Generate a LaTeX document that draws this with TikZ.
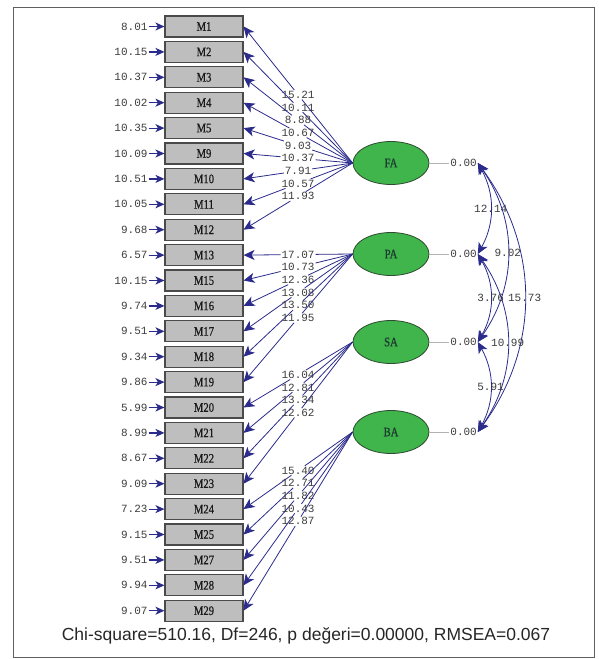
\documentclass[tikz,border=0pt]{standalone}
\usepackage{fontspec}
\setmainfont{Liberation Sans}
\newfontfamily\numfont{Liberation Mono}
\newfontfamily\boxfont[FakeStretch=0.82,FakeBold=0.6]{Liberation Serif}
\usetikzlibrary{shapes.geometric,arrows.meta}
\definecolor{boxgray}{HTML}{BEBEBE}
\definecolor{boxline}{HTML}{4A4A4A}
\definecolor{ellgreen}{HTML}{3FB54B}
\definecolor{ellline}{HTML}{2E4A30}
\definecolor{pathblue}{HTML}{2B2B8C}
\definecolor{numgray}{HTML}{3C3C3C}
\definecolor{latlabel}{HTML}{1E3A30}
\definecolor{framegray}{HTML}{606060}
\tikzset{
  obs/.style={rectangle, draw=boxline, fill=boxgray, line width=1.1pt,
    minimum width=78pt, minimum height=21pt, inner sep=0pt, text=black!90,
    font=\boxfont\fontsize{13}{13}\selectfont},
  lat/.style={ellipse, draw=ellline, fill=ellgreen, line width=0.8pt,
    minimum width=76pt, minimum height=43pt, inner sep=0pt, text=latlabel,
    font=\boxfont\fontsize{13}{13}\selectfont},
  val/.style={font=\numfont\fontsize{11}{11}\selectfont, text=numgray, inner sep=0.8pt},
  load/.style={draw=pathblue, line width=0.8pt},
  tip/.style={-{Stealth[length=11pt,width=10pt,inset=3pt,fill=pathblue]}},
  errarr/.style={draw=pathblue, line width=1.2pt, -{Stealth[length=9pt,width=8pt,inset=2.5pt,fill=pathblue]}},
  cov/.style={draw=pathblue, line width=0.8pt, {Stealth[length=11pt,width=10pt,inset=3pt,fill=pathblue]}-{Stealth[length=11pt,width=10pt,inset=3pt,fill=pathblue]}},
  link/.style={draw=black!30, line width=0.8pt},
  frame/.style={draw=framegray, line width=1pt}
}
\begin{document}
\begin{tikzpicture}[x=1pt,y=-1pt]
\useasboundingbox (0,0) rectangle (598,659);
\draw[frame] (13,7) rectangle (594,657);
% observed variables and error values
\foreach \n/\e [count=\i from 0] in {1/8.01, 2/10.15, 3/10.37, 4/10.02, 5/10.35, 9/10.09, 10/10.51, 11/10.05, 12/9.68, 13/6.57, 15/10.15, 16/9.74, 17/9.51, 18/9.34, 19/9.86, 20/5.99, 21/8.99, 22/8.67, 23/9.09, 24/7.23, 25/9.15, 27/9.51, 28/9.94, 29/9.07}{
  \node[obs] (M\n) at (204, 26.5+25.4*\i) {M\n};
  \node[val, anchor=east] (E\n) at (148.5, 26.5+25.4*\i) {\e};
  \draw[errarr] (E\n) -- (M\n);
}
% latent variables
\node[lat] (FA) at (391,163) {FA};
\node[lat] (PA) at (391,254) {PA};
\node[lat] (SA) at (391,342) {SA};
\node[lat] (BA) at (391,432) {BA};
% loadings
\foreach \lt/\n/\v in {FA/1/15.21, FA/2/10.11, FA/3/8.88, FA/4/10.67, FA/5/9.03, FA/9/10.37, FA/10/7.91, FA/11/10.57, FA/12/11.93,
  PA/13/17.07, PA/15/10.73, PA/16/12.36, PA/17/13.08, PA/18/13.50, PA/19/11.95,
  SA/20/16.04, SA/21/12.81, SA/22/13.34, SA/23/12.62,
  BA/24/15.40, BA/25/12.71, BA/27/11.82, BA/28/10.43, BA/29/12.87}{
  \path (\lt.west) -- (M\n.east) node[midway, val] (L\n) {\v};
  \draw[load] (\lt.west) -- (L\n);
  \draw[load, tip] (L\n) -- (M\n.east);
}
% variances
\foreach \lt in {FA,PA,SA,BA}{
  \node[val, anchor=west] (v\lt) at ([xshift=20pt]\lt.east) {0.00};
  \draw[link] (\lt.east) -- (v\lt.west);
}
% covariances
\draw[cov] (vFA.east) to[bend left=29] node[val] {12.14} (vPA.east);
\draw[cov] (vFA.east) to[bend left=35] node[val] {9.02} (vSA.east);
\draw[cov] (vFA.east) to[bend left=36.5] node[val] {15.73} (vBA.east);
\draw[cov] (vPA.east) to[bend left=30] node[val] {3.76} (vSA.east);
\draw[cov] (vPA.east) to[bend left=35] node[val] {10.99} (vBA.east);
\draw[cov] (vSA.east) to[bend left=29] node[val] {5.91} (vBA.east);
% fit statistics
\node[font=\fontsize{17.5}{20}\selectfont, text=black!85] (fit) at (306,636) {Chi-square=510.16, Df=246, p değeri=0.00000, RMSEA=0.067};
\end{tikzpicture}
\end{document}
